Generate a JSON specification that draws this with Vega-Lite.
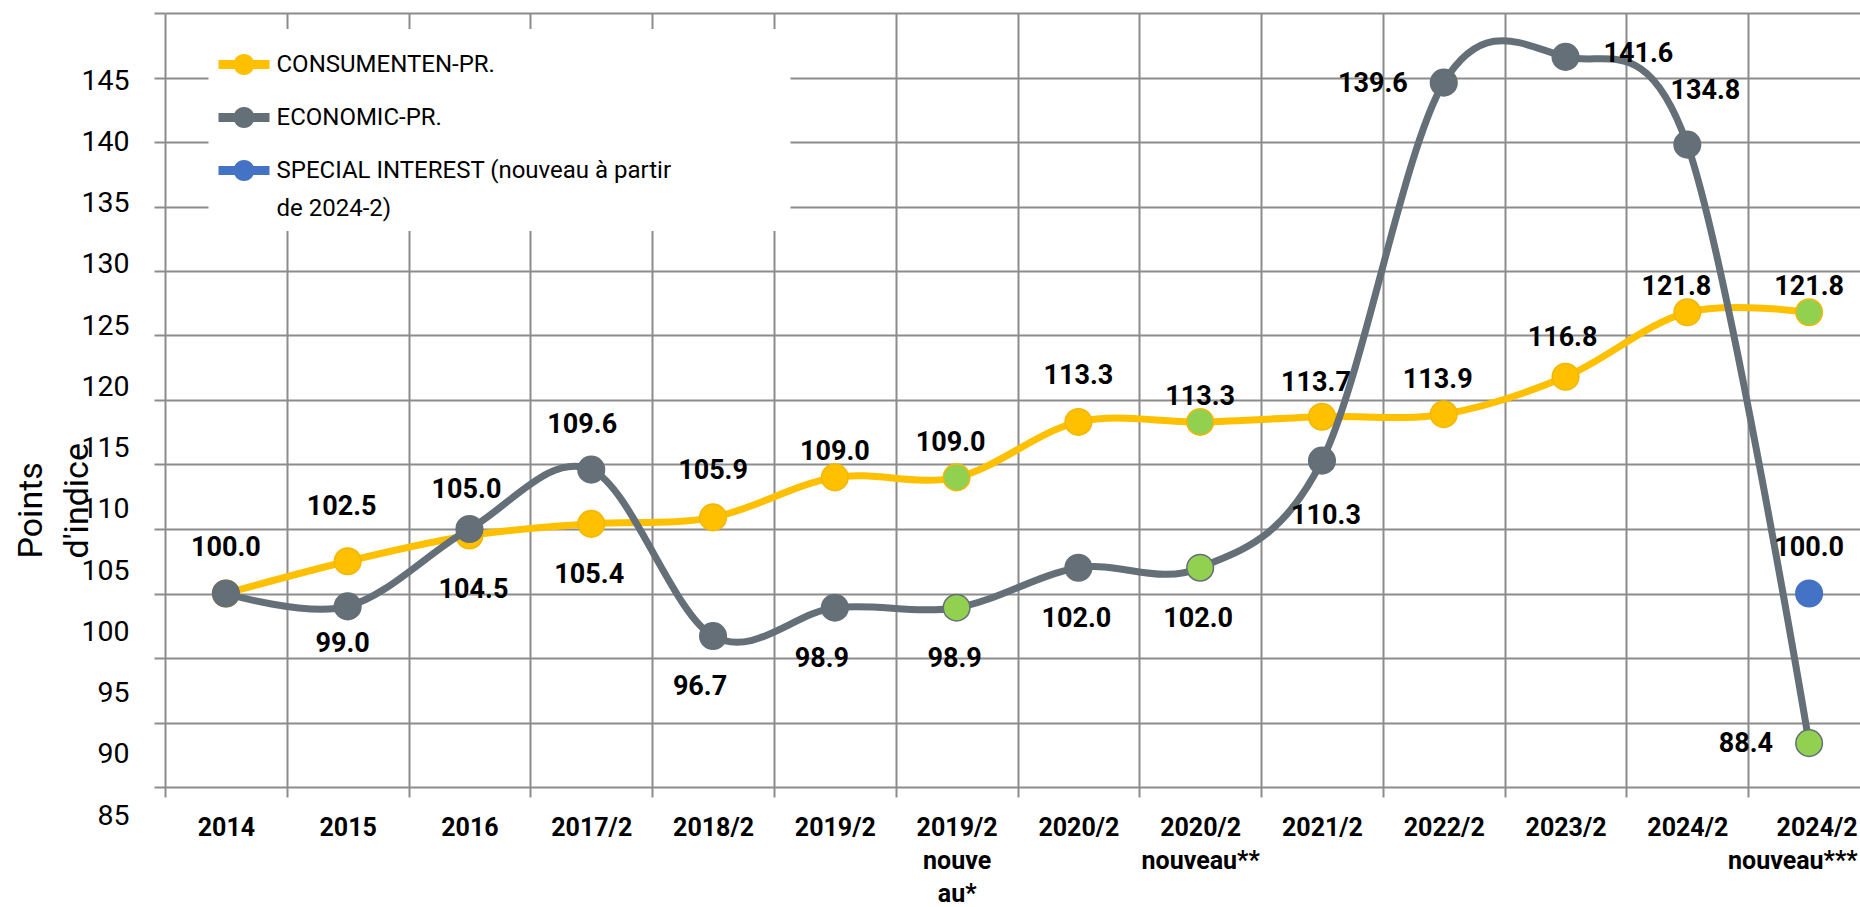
{
  "$schema": "https://vega.github.io/schema/vega-lite/v6.json",
  "width": 1695,
  "height": 774,
  "autosize": {"type": "none"},
  "padding": {"left": 165, "top": 13, "right": 0, "bottom": 120},
  "background": "white",
  "config": {"view": {"stroke": null}, "text": {"font": "Roboto"}},
  "data": {
    "values": [
      {"series": "CONSUMENTEN-PR.", "period": "2014", "value": 100.0},
      {"series": "CONSUMENTEN-PR.", "period": "2015", "value": 102.5},
      {"series": "CONSUMENTEN-PR.", "period": "2016", "value": 104.5},
      {"series": "CONSUMENTEN-PR.", "period": "2017/2", "value": 105.4},
      {"series": "CONSUMENTEN-PR.", "period": "2018/2", "value": 105.9},
      {"series": "CONSUMENTEN-PR.", "period": "2019/2", "value": 109.0},
      {"series": "CONSUMENTEN-PR.", "period": "2019/2 nouveau*", "value": 109.0},
      {"series": "CONSUMENTEN-PR.", "period": "2020/2", "value": 113.3},
      {"series": "CONSUMENTEN-PR.", "period": "2020/2 nouveau**", "value": 113.3},
      {"series": "CONSUMENTEN-PR.", "period": "2021/2", "value": 113.7},
      {"series": "CONSUMENTEN-PR.", "period": "2022/2", "value": 113.9},
      {"series": "CONSUMENTEN-PR.", "period": "2023/2", "value": 116.8},
      {"series": "CONSUMENTEN-PR.", "period": "2024/2", "value": 121.8},
      {"series": "CONSUMENTEN-PR.", "period": "2024/2 nouveau***", "value": 121.8},
      {"series": "ECONOMIC-PR.", "period": "2014", "value": 100.0},
      {"series": "ECONOMIC-PR.", "period": "2015", "value": 99.0},
      {"series": "ECONOMIC-PR.", "period": "2016", "value": 105.0},
      {"series": "ECONOMIC-PR.", "period": "2017/2", "value": 109.6},
      {"series": "ECONOMIC-PR.", "period": "2018/2", "value": 96.7},
      {"series": "ECONOMIC-PR.", "period": "2019/2", "value": 98.9},
      {"series": "ECONOMIC-PR.", "period": "2019/2 nouveau*", "value": 98.9},
      {"series": "ECONOMIC-PR.", "period": "2020/2", "value": 102.0},
      {"series": "ECONOMIC-PR.", "period": "2020/2 nouveau**", "value": 102.0},
      {"series": "ECONOMIC-PR.", "period": "2021/2", "value": 110.3},
      {"series": "ECONOMIC-PR.", "period": "2022/2", "value": 139.6},
      {"series": "ECONOMIC-PR.", "period": "2023/2", "value": 141.6},
      {"series": "ECONOMIC-PR.", "period": "2024/2", "value": 134.8},
      {"series": "ECONOMIC-PR.", "period": "2024/2 nouveau***", "value": 88.4},
      {"series": "SPECIAL INTEREST (nouveau à partir de 2024-2)", "period": "2024/2 nouveau***", "value": 100.0}
    ]
  },
  "resolve": {"scale": {"y": "independent"}, "axis": {"y": "independent"}},
  "layer": [
    {
      "encoding": {
        "x": {
          "field": "period", "type": "nominal",
          "sort": ["2014","2015","2016","2017/2","2018/2","2019/2","2019/2 nouveau*","2020/2","2020/2 nouveau**","2021/2","2022/2","2023/2","2024/2","2024/2 nouveau***"],
          "scale": {"domain": ["2014","2015","2016","2017/2","2018/2","2019/2","2019/2 nouveau*","2020/2","2020/2 nouveau**","2021/2","2022/2","2023/2","2024/2","2024/2 nouveau***"], "range": [0, 1705], "paddingInner": 0, "paddingOuter": 0},
          "axis": {
            "title": null, "tickBand": "extent", "grid": true, "gridColor": "#8c8c8c", "gridWidth": 2,
            "ticks": true, "tickSize": 10, "tickColor": "#8c8c8c", "tickWidth": 2, "domain": false,
            "labelAngle": 0, "labelFont": "Roboto", "labelFontWeight": "bold", "labelFontSize": 25, "labelColor": "black",
            "labelPadding": 18, "labelLineHeight": 33, "labelBaseline": "top", "labelOverlap": false, "labelBound": false,
            "labelAlign": {"condition": {"test": "datum.value == '2024/2 nouveau***'", "value": "right"}, "value": "center"},
            "labelOffset": {"condition": {"test": "datum.value == '2024/2 nouveau***'", "value": 48}, "value": 0},
            "labelExpr": "datum.label == '2019/2 nouveau*' ? ['2019/2','nouve','au*'] : datum.label == '2020/2 nouveau**' ? ['2020/2','nouveau**'] : datum.label == '2024/2 nouveau***' ? ['2024/2','nouveau***'] : datum.label"
          }
        },
        "y": {
          "field": "value", "type": "quantitative",
          "scale": {"domain": [85, 145], "nice": false, "zero": false},
          "axis": {
            "title": null, "values": [85,90,95,100,105,110,115,120,125,130,135,140,145], "labels": false, "domain": false,
            "ticks": true, "tickSize": 11, "tickColor": "#8c8c8c", "tickWidth": 2,
            "grid": true, "gridColor": "#8c8c8c", "gridWidth": 2
          }
        }
      },
      "layer": [
        {
          "transform": [{"filter": "datum.series == 'CONSUMENTEN-PR.'"}],
          "mark": {"type": "line", "interpolate": "cardinal", "tension": 0, "strokeWidth": 7},
          "encoding": {
            "color": {
              "field": "series", "type": "nominal",
              "scale": {"domain": ["CONSUMENTEN-PR.", "ECONOMIC-PR.", "SPECIAL INTEREST (nouveau à partir de 2024-2)"], "range": ["#FFC000", "#646F77", "#4472C4"]},
              "legend": {
                "title": null, "orient": "none", "legendX": 43.5, "legendY": 16, "fillColor": "white", "padding": 10, "rowPadding": 15,
                "symbolType": "M-1,-0.18 L1,-0.18 L1,0.18 L-1,0.18 Z M0.41,0 A0.41,0.41 0 1,1 -0.41,0 A0.41,0.41 0 1,1 0.41,0 Z",
                "symbolSize": 2601, "symbolStrokeWidth": 0,
                "labelFont": "Roboto", "labelFontSize": 24, "labelColor": "black", "labelOffset": 7, "labelLimit": 1000,
                "labelExpr": "datum.label == 'SPECIAL INTEREST (nouveau à partir de 2024-2)' ? ['SPECIAL INTEREST (nouveau à partir\u2800\u2800\u2800\u2800\u2800\u2800', 'de 2024-2)'] : datum.label",
                "encode": {
                  "symbols": {"update": {"fill": {"scale": "color", "field": "value"}, "strokeWidth": {"value": 0}, "opacity": {"value": 1}}},
                  "labels": {"update": {"lineHeight": {"value": 38}}}
                }
              }
            }
          }
        },
        {
          "transform": [{"filter": "datum.series == 'CONSUMENTEN-PR.'"}],
          "mark": {"type": "point", "filled": true, "size": 707, "strokeWidth": 1.5, "opacity": 1},
          "encoding": {
            "color": {
              "condition": {"test": "indexof(datum.period, 'nouveau') >= 0", "value": "#92D050"},
              "field": "series", "type": "nominal"
            },
            "stroke": {"field": "series", "type": "nominal", "scale": {"domain": ["CONSUMENTEN-PR.", "ECONOMIC-PR.", "SPECIAL INTEREST (nouveau à partir de 2024-2)"], "range": ["#F2B800", "#646F77", "#4472C4"]}, "legend": null}
          }
        },
        {
          "transform": [{"filter": "datum.series == 'ECONOMIC-PR.'"}],
          "mark": {"type": "line", "interpolate": "cardinal", "tension": 0, "strokeWidth": 7},
          "encoding": {"color": {"field": "series", "type": "nominal"}}
        },
        {
          "transform": [{"filter": "datum.series == 'ECONOMIC-PR.'"}],
          "mark": {"type": "point", "filled": true, "size": 707, "strokeWidth": 1.5, "opacity": 1},
          "encoding": {
            "color": {
              "condition": {"test": "indexof(datum.period, 'nouveau') >= 0", "value": "#92D050"},
              "field": "series", "type": "nominal"
            },
            "stroke": {"field": "series", "type": "nominal", "legend": null}
          }
        },
        {
          "transform": [{"filter": "indexof(datum.series, 'SPECIAL') == 0"}],
          "mark": {"type": "point", "filled": true, "size": 707, "strokeWidth": 1.5, "opacity": 1},
          "encoding": {
            "color": {"field": "series", "type": "nominal"},
            "stroke": {"field": "series", "type": "nominal", "legend": null}
          }
        },
        {
          "transform": [{"filter": "indexof(['C2019/2','C2020/2 nouveau**','C2024/2 nouveau***'], substring(datum.series,0,1) + datum.period) >= 0"}],
          "mark": {"type": "text", "dy": -25, "dx": 0, "font": "Roboto", "fontSize": 27, "fontWeight": "bold", "color": "black"},
          "encoding": {"text": {"field": "value", "type": "quantitative", "format": ".1f"}}
        },
        {
          "transform": [{"filter": "indexof(['C2024/2'], substring(datum.series,0,1) + datum.period) >= 0"}],
          "mark": {"type": "text", "dy": -25, "dx": -11, "font": "Roboto", "fontSize": 27, "fontWeight": "bold", "color": "black"},
          "encoding": {"text": {"field": "value", "type": "quantitative", "format": ".1f"}}
        },
        {
          "transform": [{"filter": "indexof(['C2019/2 nouveau*','C2021/2','C2022/2'], substring(datum.series,0,1) + datum.period) >= 0"}],
          "mark": {"type": "text", "dy": -34, "dx": -6, "font": "Roboto", "fontSize": 27, "fontWeight": "bold", "color": "black"},
          "encoding": {"text": {"field": "value", "type": "quantitative", "format": ".1f"}}
        },
        {
          "transform": [{"filter": "indexof(['C2023/2','E2016'], substring(datum.series,0,1) + datum.period) >= 0"}],
          "mark": {"type": "text", "dy": -39, "dx": -3, "font": "Roboto", "fontSize": 27, "fontWeight": "bold", "color": "black"},
          "encoding": {"text": {"field": "value", "type": "quantitative", "format": ".1f"}}
        },
        {
          "transform": [{"filter": "indexof(['C2014','C2018/2','C2020/2','S2024/2 nouveau***'], substring(datum.series,0,1) + datum.period) >= 0"}],
          "mark": {"type": "text", "dy": -46, "dx": 0, "font": "Roboto", "fontSize": 27, "fontWeight": "bold", "color": "black"},
          "encoding": {"text": {"field": "value", "type": "quantitative", "format": ".1f"}}
        },
        {
          "transform": [{"filter": "indexof(['E2017/2'], substring(datum.series,0,1) + datum.period) >= 0"}],
          "mark": {"type": "text", "dy": -45, "dx": -9, "font": "Roboto", "fontSize": 27, "fontWeight": "bold", "color": "black"},
          "encoding": {"text": {"field": "value", "type": "quantitative", "format": ".1f"}}
        },
        {
          "transform": [{"filter": "indexof(['C2015'], substring(datum.series,0,1) + datum.period) >= 0"}],
          "mark": {"type": "text", "dy": -54, "dx": -6, "font": "Roboto", "fontSize": 27, "fontWeight": "bold", "color": "black"},
          "encoding": {"text": {"field": "value", "type": "quantitative", "format": ".1f"}}
        },
        {
          "transform": [{"filter": "indexof(['E2024/2'], substring(datum.series,0,1) + datum.period) >= 0"}],
          "mark": {"type": "text", "dy": -54, "dx": 18, "font": "Roboto", "fontSize": 27, "fontWeight": "bold", "color": "black"},
          "encoding": {"text": {"field": "value", "type": "quantitative", "format": ".1f"}}
        },
        {
          "transform": [{"filter": "indexof(['E2015'], substring(datum.series,0,1) + datum.period) >= 0"}],
          "mark": {"type": "text", "dy": 38, "dx": -5, "font": "Roboto", "fontSize": 27, "fontWeight": "bold", "color": "black"},
          "encoding": {"text": {"field": "value", "type": "quantitative", "format": ".1f"}}
        },
        {
          "transform": [{"filter": "indexof(['E2018/2','E2019/2'], substring(datum.series,0,1) + datum.period) >= 0"}],
          "mark": {"type": "text", "dy": 51, "dx": -13, "font": "Roboto", "fontSize": 27, "fontWeight": "bold", "color": "black"},
          "encoding": {"text": {"field": "value", "type": "quantitative", "format": ".1f"}}
        },
        {
          "transform": [{"filter": "indexof(['E2019/2 nouveau*','C2017/2','E2020/2','E2020/2 nouveau**'], substring(datum.series,0,1) + datum.period) >= 0"}],
          "mark": {"type": "text", "dy": 51, "dx": -2, "font": "Roboto", "fontSize": 27, "fontWeight": "bold", "color": "black"},
          "encoding": {"text": {"field": "value", "type": "quantitative", "format": ".1f"}}
        },
        {
          "transform": [{"filter": "indexof(['C2016','E2021/2'], substring(datum.series,0,1) + datum.period) >= 0"}],
          "mark": {"type": "text", "dy": 55, "dx": 4, "font": "Roboto", "fontSize": 27, "fontWeight": "bold", "color": "black"},
          "encoding": {"text": {"field": "value", "type": "quantitative", "format": ".1f"}}
        },
        {
          "transform": [{"filter": "indexof(['E2022/2','E2024/2 nouveau***'], substring(datum.series,0,1) + datum.period) >= 0"}],
          "mark": {"type": "text", "align": "right", "dy": 1, "dx": -36, "font": "Roboto", "fontSize": 27, "fontWeight": "bold", "color": "black"},
          "encoding": {"text": {"field": "value", "type": "quantitative", "format": ".1f"}}
        },
        {
          "transform": [{"filter": "indexof(['E2023/2'], substring(datum.series,0,1) + datum.period) >= 0"}],
          "mark": {"type": "text", "align": "left", "dy": -3, "dx": 38, "font": "Roboto", "fontSize": 27, "fontWeight": "bold", "color": "black"},
          "encoding": {"text": {"field": "value", "type": "quantitative", "format": ".1f"}}
        }
      ]
    },
    {
      "mark": {"type": "point", "opacity": 0},
      "encoding": {
        "x": {"field": "period", "type": "nominal"},
        "y": {
          "field": "value", "type": "quantitative",
          "scale": {"domain": [85, 145], "range": [802, 67], "nice": false, "zero": false},
          "axis": {
            "orient": "left", "values": [85,90,95,100,105,110,115,120,125,130,135,140,145],
            "domain": false, "ticks": false, "grid": false,
            "labelFont": "Roboto", "labelFontSize": 28.5, "labelColor": "black", "labelPadding": 36,
            "labelFlush": false, "labelOverlap": false, "labelBound": false,
            "title": ["Points", "d'indice"], "titleFont": "Roboto", "titleFontSize": 34, "titleFontWeight": "normal", "titleColor": "black",
            "titleAngle": -90, "titleX": -124, "titleY": 545, "titleAlign": "left", "titleBaseline": "alphabetic", "titleLineHeight": 46
          }
        }
      }
    }
  ]
}
